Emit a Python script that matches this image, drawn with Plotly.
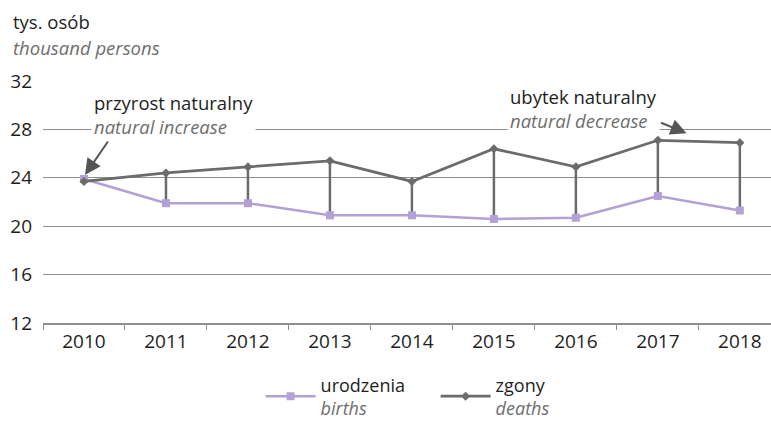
import plotly.graph_objects as go

# Population data (thousand persons)
years = ["2010", "2011", "2012", "2013", "2014", "2015", "2016", "2017", "2018"]
births = [23.9, 21.9, 21.9, 20.9, 20.9, 20.6, 20.7, 22.5, 21.3]
deaths = [23.7, 24.4, 24.9, 25.4, 23.7, 26.4, 24.9, 27.1, 26.9]
y_ticks = [12, 16, 20, 24, 28, 32]

FONT = "Open Sans"
FS = 18.5
DARK = "#1e1e1e"
GREY_TXT = "#6e6e6e"
PURPLE = "#b3a0d6"
LINE_GREY = "#6b6b6b"
GRID = "#8f8f8f"

# vertical connectors between births and deaths for each year
drop_x, drop_y = [], []
for yr, b, d in zip(years, births, deaths):
    drop_x += [yr, yr, None]
    drop_y += [b, d, None]

fig = go.Figure()
fig.add_trace(go.Scatter(
    x=drop_x, y=drop_y, mode="lines",
    line=dict(color=LINE_GREY, width=2.5),
    showlegend=False, hoverinfo="skip", connectgaps=False,
))
fig.add_trace(go.Scatter(
    x=years, y=births, mode="lines+markers",
    name=f"urodzenia<br><span style='color:{GREY_TXT}'><i>births</i></span>",
    line=dict(color=PURPLE, width=2.5),
    marker=dict(symbol="square", size=8, color=PURPLE),
))
fig.add_trace(go.Scatter(
    x=years, y=deaths, mode="lines+markers",
    name=f"zgony<br><span style='color:{GREY_TXT}'><i>deaths</i></span>",
    line=dict(color=LINE_GREY, width=2.8),
    marker=dict(symbol="diamond", size=7, color=LINE_GREY),
))

annotations = [
    # axis unit label
    dict(xref="paper", yref="paper", x=-0.044, y=1.0, yshift=60,
         xanchor="left", yanchor="middle", showarrow=False, align="left",
         text="tys. osób", font=dict(size=FS, color=DARK, family=FONT)),
    dict(xref="paper", yref="paper", x=-0.044, y=1.0, yshift=34,
         xanchor="left", yanchor="middle", showarrow=False, align="left",
         text="<i>thousand persons</i>", font=dict(size=FS, color=GREY_TXT, family=FONT)),
    # callout labels
    dict(xref="paper", yref="y", x=0.066, y=29.25, xanchor="left", yanchor="middle",
         showarrow=False, align="left", bgcolor="white", borderpad=2,
         text=f"przyrost naturalny<br><span style='color:{GREY_TXT}'><i>natural increase</i></span>",
         font=dict(size=FS, color=DARK, family=FONT)),
    dict(xref="paper", yref="y", x=0.637, y=29.75, xanchor="left", yanchor="middle",
         showarrow=False, align="left", bgcolor="white", borderpad=2,
         text=f"ubytek naturalny<br><span style='color:{GREY_TXT}'><i>natural decrease</i></span>",
         font=dict(size=FS, color=DARK, family=FONT)),
    # callout arrows
    dict(x=0.012, y=24.23, xref="x", yref="y", text="", showarrow=True,
         ax=24, ay=-35, arrowhead=2, arrowsize=1.6, arrowwidth=2,
         arrowcolor="#555555", standoff=0),
    dict(x=7.35, y=27.69, xref="x", yref="y", text="", showarrow=True,
         ax=-27, ay=-11, arrowhead=2, arrowsize=1.6, arrowwidth=2,
         arrowcolor="#555555", standoff=0),
]

fig.update_layout(
    width=771, height=423,
    margin=dict(l=43, r=0, t=81, b=100, autoexpand=False),
    paper_bgcolor="white", plot_bgcolor="white",
    font=dict(family=FONT, size=FS, color=DARK),
    showlegend=True,
    legend=dict(orientation="h", xref="container", yref="container",
                x=0.338, xanchor="left", y=0.134, yanchor="top",
                itemwidth=50, entrywidth=110, entrywidthmode="pixels",
                font=dict(size=18, color=DARK, family=FONT), valign="middle",
                bgcolor="rgba(0,0,0,0)"),
    annotations=annotations,
    hovermode=False,
)
fig.update_xaxes(
    type="category", categoryorder="array", categoryarray=years,
    range=[-0.5, 8.38], tickson="boundaries", ticks="outside", ticklen=5,
    tickcolor=GRID, tickwidth=1, showline=True, linecolor=GRID, linewidth=1.5,
    showgrid=False, zeroline=False, tickfont=dict(size=19, color=DARK),
    fixedrange=True,
)
fig.update_yaxes(
    range=[12, 32], tickvals=y_ticks, ticktext=[str(v) for v in y_ticks],
    showgrid=True, gridcolor=GRID, gridwidth=1.2, zeroline=False, showline=False,
    ticks="", ticklabelstandoff=10, tickfont=dict(size=19, color=DARK),
    fixedrange=True,
)

fig.write_html("out.html")
